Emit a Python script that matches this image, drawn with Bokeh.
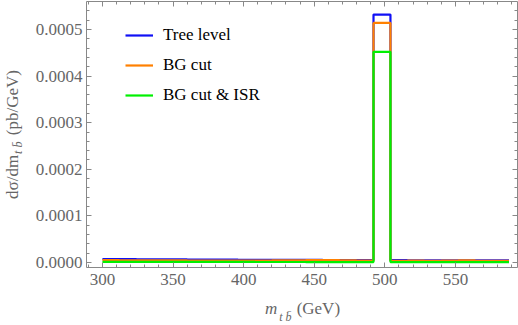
import numpy as np
from bokeh.plotting import figure
from bokeh.models import (Range1d, SingleIntervalTicker, PrintfTickFormatter, LinearAxis,
                          Legend, CustomJSTickFormatter, Div)
from bokeh.layouts import row, column
from bokeh.embed import file_html
from bokeh.resources import INLINE

# ---- data ----
bin_edges = list(range(300, 589, 12))  # 300 ... 588, 24 bins of 12 GeV
tree_level = [7.5, 7.3, 7.0, 6.8, 6.6, 6.4, 6.2, 6.0, 5.9, 5.8, 5.7, 5.6,
              5.5, 5.4, 5.3, 5.2, 532.0, 5.0, 4.9, 4.8, 4.7, 4.6, 4.5, 4.4]
bg_cut = [5.0, 4.8, 4.6, 4.5, 4.4, 4.3, 4.2, 4.1, 4.0, 4.0, 4.6, 4.9,
          5.0, 5.1, 4.5, 4.0, 514.0, 3.8, 3.9, 3.8, 4.3, 4.5, 3.7, 3.6]
bg_cut_isr = [1.5, 1.4, 1.4, 1.3, 1.3, 1.3, 1.2, 1.2, 1.2, 1.1, 1.1, 1.1,
              1.0, 1.0, 1.0, 1.0, 452.0, 1.0, 1.0, 1.0, 0.9, 0.9, 0.9, 0.9]
scale = 1e-6
series_names = ["Tree level", "BG cut", "BG cut & ISR"]
series_colors = ["#1010f5", "#ff8000", "#00f000"]

FONT = "Liberation Serif"
GRAY = "#888888"
TXT = "#666666"

YL_W = 22           # width of the y-title strip
XL_H = 30           # height of the x-title strip
W, H = 518 - YL_W, 325 - XL_H

p = figure(width=W, height=H, output_backend="svg", toolbar_location=None,
           x_range=Range1d(288.7, 594), y_range=Range1d(-0.0000107, 0.00056),
           min_border_left=86 - YL_W, min_border_right=1, min_border_top=1,
           min_border_bottom=H - 267)
p.background_fill_color = "white"
p.border_fill_color = "white"
p.outline_line_color = None
p.grid.visible = False

renderers = []
for name, vals, col in zip(series_names, [tree_level, bg_cut, bg_cut_isr], series_colors):
    v = [x * scale for x in vals]
    r = p.step(x=bin_edges, y=v + [v[-1]], mode="after", line_width=2.2, line_color=col)
    renderers.append((name, [r]))

xt = SingleIntervalTicker(interval=50, num_minor_ticks=5)
yt = SingleIntervalTicker(interval=0.0001, num_minor_ticks=5)

def style_axis(ax):
    ax.axis_line_color = GRAY
    ax.axis_line_width = 1
    ax.major_tick_line_color = GRAY
    ax.minor_tick_line_color = GRAY
    ax.major_tick_in = 5
    ax.major_tick_out = 0
    ax.minor_tick_in = 3
    ax.minor_tick_out = 0
    ax.major_label_text_font = FONT
    ax.major_label_text_color = TXT
    ax.major_label_text_font_size = "17px"

xa = p.xaxis[0]
xa.ticker = xt
style_axis(xa)
xa.major_label_standoff = 6
ya = p.yaxis[0]
ya.ticker = yt
ya.formatter = PrintfTickFormatter(format="%.4f")
style_axis(ya)
ya.major_label_standoff = 4

blank = CustomJSTickFormatter(code="return ''")
top = LinearAxis(ticker=SingleIntervalTicker(interval=50, num_minor_ticks=5), formatter=blank)
style_axis(top)
top.major_label_standoff = 0
p.add_layout(top, "above")
right = LinearAxis(ticker=SingleIntervalTicker(interval=0.0001, num_minor_ticks=5), formatter=blank)
style_axis(right)
right.major_label_standoff = 0
p.add_layout(right, "right")

legend = Legend(items=renderers, location=(39, 162), padding=0, margin=0,
                spacing=10, glyph_width=28, glyph_height=20, label_height=20,
                label_standoff=10, label_text_font=FONT, label_text_font_size="17px",
                label_text_color="black", border_line_color=None,
                background_fill_alpha=0)
p.add_layout(legend, "center")

# ---- axis titles (real HTML text) ----
font_css = f"font-family:'{FONT}',serif;font-size:17px;color:{TXT};white-space:nowrap;"
x_title = Div(width=W, height=XL_H, margin=0, text=(
    f"<div style=\"{font_css}padding-left:{265 - YL_W}px;padding-top:4px;line-height:19px;\">"
    "<i>m</i><span style=\"position:relative;top:7px;font-size:12px;font-style:italic;"
    "margin-left:2px;margin-right:5px;\">t b&#772;</span>(GeV)</div>"))
y_title = Div(width=YL_W, height=325, margin=0, text=(
    f"<div style=\"{font_css}position:absolute;left:3px;top:70px;line-height:19px;"
    "writing-mode:vertical-rl;transform:rotate(180deg);\">"
    "d&sigma;/dm<span style=\"position:relative;left:-5px;font-size:12px;font-style:italic;"
    "margin-top:1px;margin-bottom:2px;\">t b&#772;</span> (pb/GeV)</div>"))

layout = row(y_title, column(p, x_title, spacing=0, margin=0), spacing=0, margin=0)

open("out.html", "w").write(file_html(layout, INLINE))
